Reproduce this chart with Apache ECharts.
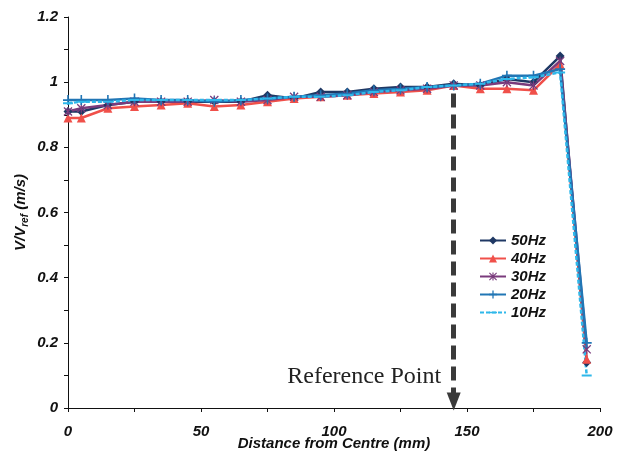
<!DOCTYPE html>
<html><head><meta charset="utf-8">
<script src="https://cdn.jsdelivr.net/npm/echarts@6/dist/echarts.min.js"></script>
<style>html,body{margin:0;padding:0;background:#fff}#c{width:619px;height:457px}</style>
</head><body><div id="c"></div>
<script>
const distances = [0, 5, 15, 25, 35, 45, 55, 65, 75, 85, 95, 105, 115, 125, 135, 145, 155, 165, 175, 185, 195];
const hz50 = [0.91, 0.91, 0.93, 0.94, 0.94, 0.94, 0.94, 0.94, 0.96, 0.95, 0.97, 0.97, 0.98, 0.985, 0.985, 0.995, 0.99, 1.01, 1.0, 1.08, 0.14];
const hz40 = [0.89, 0.89, 0.92, 0.925, 0.93, 0.935, 0.925, 0.93, 0.94, 0.95, 0.955, 0.96, 0.965, 0.97, 0.975, 0.99, 0.98, 0.98, 0.975, 1.055, 0.15];
const hz30 = [0.91, 0.92, 0.93, 0.94, 0.94, 0.94, 0.945, 0.94, 0.945, 0.955, 0.955, 0.96, 0.97, 0.975, 0.98, 0.99, 0.99, 1.0, 0.99, 1.065, 0.18];
const hz20 = [0.945, 0.945, 0.945, 0.95, 0.945, 0.945, 0.94, 0.945, 0.95, 0.955, 0.96, 0.965, 0.975, 0.98, 0.985, 0.99, 0.995, 1.02, 1.02, 1.04, 0.2];
const hz10 = [0.935, 0.94, 0.94, 0.945, 0.945, 0.945, 0.945, 0.945, 0.95, 0.955, 0.955, 0.96, 0.97, 0.975, 0.985, 0.99, 0.995, 1.01, 1.015, 1.03, 0.1];
const seriesNames = ['50Hz', '40Hz', '30Hz', '20Hz', '10Hz'];
const refPoint = { x: 145, top: 0.965, bottom: 0.02, labelY: 0.095, label: 'Reference Point' };

const pairs = vals => distances.map((d, i) => [d, vals[i]]);
const font = 'Liberation Sans, Arial, sans-serif';
const starPath = 'path://M4.3,0h1.4v10h-1.4z M0,1 L1,0 L10,9 L9,10z M9,0 L10,1 L1,10 L0,9z';
const plusPath = 'path://M4.2,0h1.6v10h-1.6z M0,4.2h10v1.6h-10z';
const dashPath = 'path://M0,4h10v2h-10z M5,0h0.01v0.01h-0.01z M5,9.99h0.01v0.01h-0.01z';

function mk(name, vals, color, symbol, size, dashed) {
  return {
    name, type: 'line', data: pairs(vals), symbol, symbolSize: size,
    lineStyle: { color, width: 2.5, type: dashed ? [4, 2] : 'solid' },
    itemStyle: { color },
    emphasis: { disabled: true }, animation: false
  };
}

const chart = echarts.init(document.getElementById('c'));
chart.setOption({
  animation: false,
  grid: { left: 68, right: 19, top: 17, bottom: 49, outerBoundsMode: 'none', containLabel: false },
  legend: {
    data: seriesNames, orient: 'vertical', left: 474, top: 228,
    itemWidth: 26, itemHeight: 10, itemGap: 3,
    textStyle: { fontFamily: font, fontWeight: 'bold', fontStyle: 'italic', fontSize: 15, color: '#111' }
  },
  xAxis: {
    type: 'value', min: 0, max: 200, interval: 25,
    name: 'Distance from Centre (mm)', nameLocation: 'middle', nameGap: 28, nameMoveOverlap: false,
    nameTextStyle: { fontFamily: font, fontWeight: 'bold', fontStyle: 'italic', fontSize: 15, color: '#111' },
    axisLine: { lineStyle: { color: '#111', width: 1 } },
    axisTick: { show: true, length: 4, lineStyle: { color: '#111' } },
    axisLabel: {
      margin: 16, fontFamily: font, fontWeight: 'bold', fontStyle: 'italic', fontSize: 15, color: '#111',
      formatter: v => (v % 50 === 0 ? String(v) : '')
    },
    splitLine: { show: false }
  },
  yAxis: {
    type: 'value', min: 0, max: 1.2, interval: 0.1,
    name: '{a|V/V}{s|ref}{a| (m/s)}', nameLocation: 'middle', nameGap: 38, nameMoveOverlap: false,
    nameTextStyle: {
      rich: {
        a: { fontFamily: font, fontWeight: 'bold', fontStyle: 'italic', fontSize: 15, color: '#111' },
        s: { fontFamily: font, fontWeight: 'bold', fontStyle: 'italic', fontSize: 10, color: '#111', padding: [8, 0, 0, 0] }
      }
    },
    axisLine: { show: true, lineStyle: { color: '#111', width: 1 } },
    axisTick: { show: true, length: 4, lineStyle: { color: '#111' } },
    axisLabel: {
      margin: 10, fontFamily: font, fontWeight: 'bold', fontStyle: 'italic', fontSize: 15, color: '#111',
      formatter: v => { const r = Math.round(v * 10); return r % 2 === 0 ? String(r / 10) : ''; }
    },
    splitLine: { show: false }
  },
  series: [
    mk('50Hz', hz50, '#1f3864', 'diamond', 9),
    mk('40Hz', hz40, '#f0504a', 'triangle', 9),
    mk('30Hz', hz30, '#7a3b7c', starPath, 9),
    mk('20Hz', hz20, '#2176b5', plusPath, 10),
    mk('10Hz', hz10, '#2fb8ea', dashPath, 10, true),
    {
      name: 'ref', type: 'line', data: [], silent: true,
      markLine: {
        silent: true, symbol: ['none', 'triangle'], symbolSize: [14, 18],
        lineStyle: { color: '#3a3a3a', width: 5, type: [14, 7] },
        label: { show: false },
        data: [[{ coord: [refPoint.x, refPoint.top] }, { coord: [refPoint.x, refPoint.bottom] }]]
      },
      markPoint: {
        silent: true, symbol: 'circle', symbolSize: 1, itemStyle: { color: 'transparent' },
        label: { show: true, position: 'left', distance: 12, formatter: refPoint.label,
          fontFamily: 'Liberation Serif, Times New Roman, serif', fontSize: 24, color: '#222' },
        data: [{ coord: [refPoint.x, refPoint.labelY] }]
      }
    }
  ]
});
</script></body></html>
